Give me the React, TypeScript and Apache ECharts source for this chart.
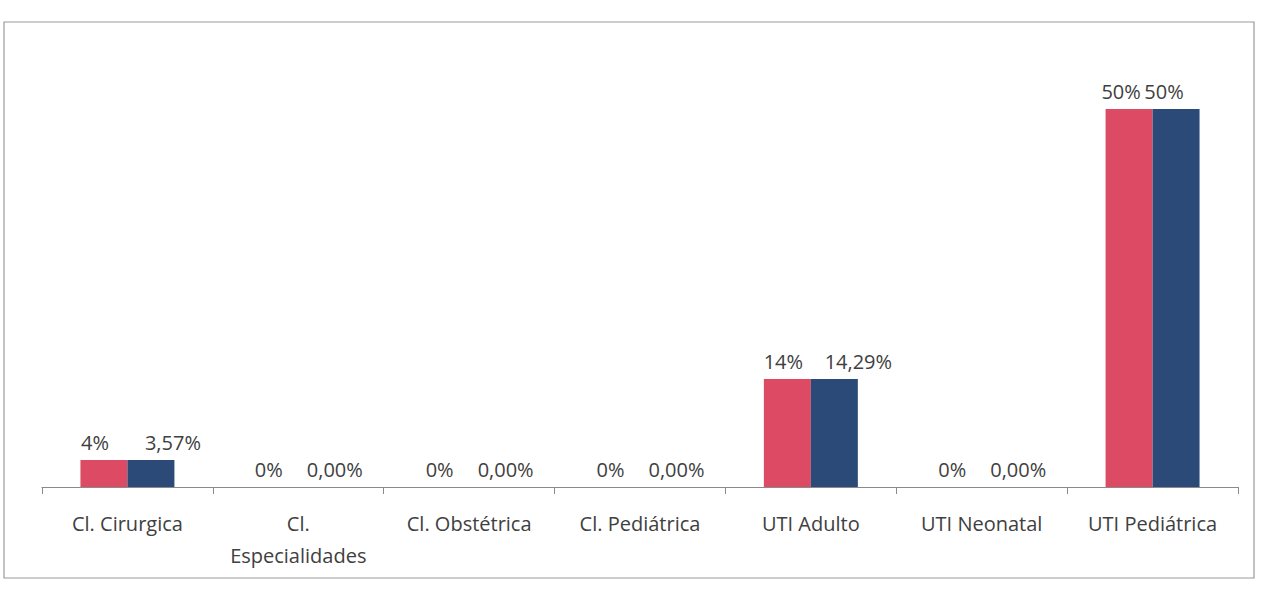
import React, { useEffect, useRef } from "react";
import * as echarts from "echarts";

const categories = [
  "Cl. Cirurgica",
  "Cl.\nEspecialidades",
  "Cl. Obstétrica",
  "Cl. Pediátrica",
  "UTI Adulto",
  "UTI Neonatal",
  "UTI Pediátrica",
];
const seriesAValues = [3.57, 0, 0, 0, 14.29, 0, 50];
const seriesBValues = [3.57, 0, 0, 0, 14.29, 0, 50];
const seriesALabels = ["4%", "0%", "0%", "0%", "14%", "0%", "50%"];
const seriesBLabels = ["3,57%", "0,00%", "0,00%", "0,00%", "14,29%", "0,00%", "50%"];

// horizontal nudges of the data labels (layout only)
const labelShiftA = [-9, -6, -6, -6, -4, -6, -8];
const labelShiftB = [22, 13, 13, 13, 24, 13, -12];

const FONT = "'Open Sans', Lato, sans-serif";

export default function App() {
  const ref = useRef<HTMLDivElement>(null);
  useEffect(() => {
    document.body.style.margin = "0";
    const chart = echarts.init(ref.current!, undefined, { renderer: "svg" });
    const labelStyle = {
      show: true,
      position: "top" as const,
      distance: 8,
      color: "#404040",
      fontSize: 20,
      fontFamily: FONT,
    };
    const build = (vals: number[], shifts: number[]) =>
      vals.map((v, i) => ({ value: v, label: { offset: [shifts[i], 0] } }));
    chart.setOption({
      animation: false,
      backgroundColor: "#ffffff",
      graphic: [
        {
          type: "rect",
          shape: { x: 4, y: 22, width: 1250, height: 556 },
          style: { fill: "none", stroke: "#9a9a9a", lineWidth: 1.2 },
          silent: true,
        },
      ],
      grid: { left: 42, right: 30, top: 60, bottom: 106 },
      xAxis: {
        type: "category",
        data: categories,
        axisLine: { lineStyle: { color: "#8a8a8a", width: 1.2 } },
        axisTick: { show: true, length: 7, lineStyle: { color: "#8a8a8a" } },
        axisLabel: {
          color: "#404040",
          fontSize: 20,
          fontFamily: FONT,
          margin: 20,
          lineHeight: 32,
          interval: 0,
        },
      },
      yAxis: {
        type: "value",
        min: 0,
        max: 56.5,
        show: false,
        splitLine: { show: false },
      },
      series: [
        {
          type: "bar",
          data: build(seriesAValues, labelShiftA),
          barGap: "0%",
          barCategoryGap: "45%",
          itemStyle: { color: "#dc4a63" },
          label: {
            ...labelStyle,
            formatter: (p: any) => seriesALabels[p.dataIndex],
          },
        },
        {
          type: "bar",
          data: build(seriesBValues, labelShiftB),
          itemStyle: { color: "#2c4a78" },
          label: {
            ...labelStyle,
            formatter: (p: any) => seriesBLabels[p.dataIndex],
          },
        },
      ],
    });
    return () => chart.dispose();
  }, []);
  return <div ref={ref} style={{ width: 1268, height: 593 }} />;
}
